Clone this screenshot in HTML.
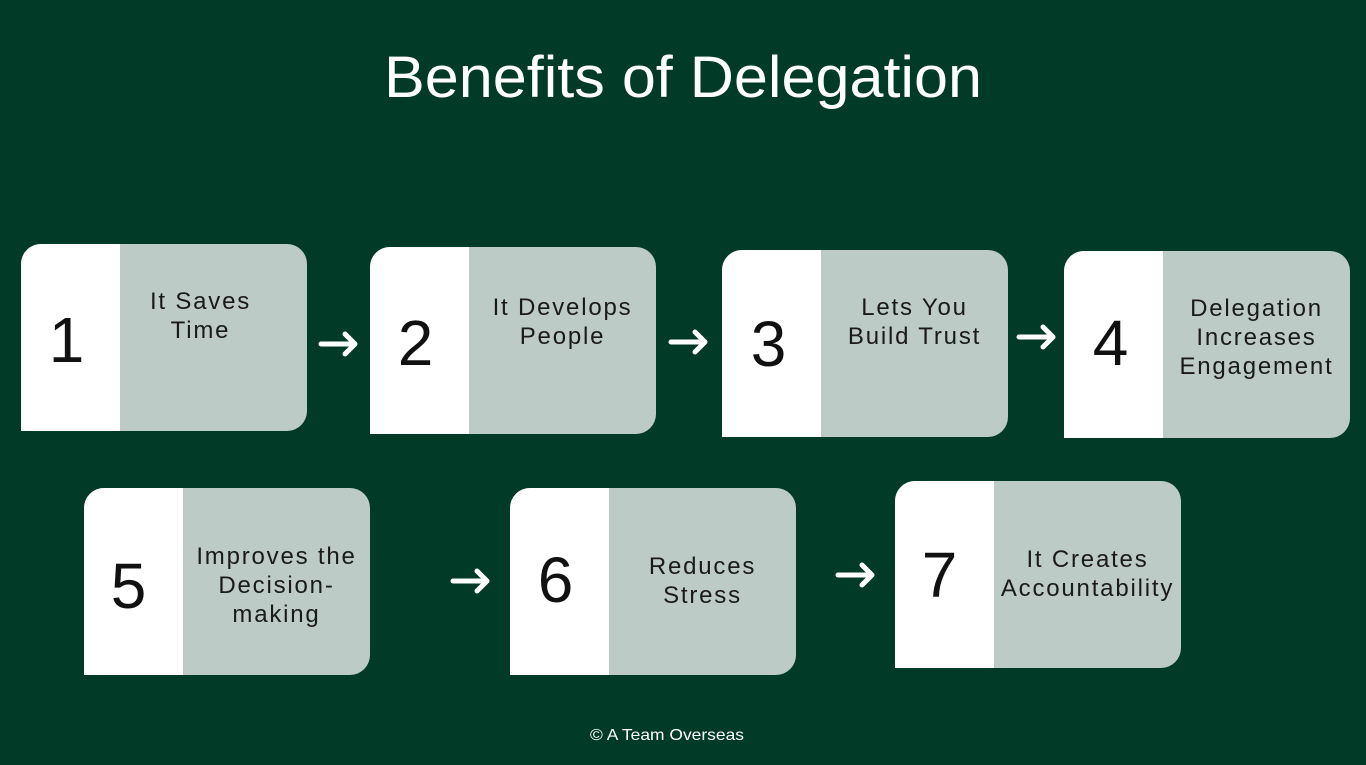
<!DOCTYPE html>
<html><head><meta charset="utf-8">
<style>
html,body{margin:0;padding:0}
body{width:1366px;height:765px;background:#023a28;position:relative;overflow:hidden;font-family:"Liberation Sans",sans-serif}
.card{position:absolute;width:286px;height:187px;border-radius:20px 20px 20px 0;background:#bccbc5;overflow:hidden}
.card .w{position:absolute;left:0;top:0;width:99px;height:100%;background:#fff}
.card .n{position:absolute;left:0;width:99px;text-align:center;font-size:64px;line-height:64px;color:#111}
.card .t{position:absolute;left:99px;right:0;text-align:center;font-size:24px;line-height:29px;color:#1a1a1a;letter-spacing:1.8px;white-space:nowrap}
</style></head><body>
<svg width="1366" height="765" style="position:absolute;left:0;top:0">
<text x="683" y="97" fill="#fff" font-family="Liberation Sans" font-size="58" text-anchor="middle" textLength="598" lengthAdjust="spacingAndGlyphs">Benefits of Delegation</text>
<text x="667" y="740" fill="#fff" font-family="Liberation Sans" font-size="16" text-anchor="middle" textLength="154" lengthAdjust="spacingAndGlyphs">© A Team Overseas</text>
<g stroke="#fff" stroke-width="5" fill="none" stroke-linecap="round" stroke-linejoin="round">
<path d="M321 344H354M345 334L355 344L345 354"/>
<path d="M671 342H704M695 332L705 342L695 352"/>
<path d="M1019 337H1052M1043 327L1053 337L1043 347"/>
<path d="M453 581H486M477 571L487 581L477 591"/>
<path d="M838 575H871M862 565L872 575L862 585"/>
</g>
</svg>

<div class="card" style="left:21px;top:244px"><div class="w"></div><div class="n" style="top:64px;left:-4px">1</div><div class="t" style="top:43px;padding-right:26px">It Saves<br>Time</div></div>
<div class="card" style="left:370px;top:247px"><div class="w"></div><div class="n" style="top:64px;left:-4px">2</div><div class="t" style="top:46px">It Develops<br>People</div></div>
<div class="card" style="left:722px;top:250px"><div class="w"></div><div class="n" style="top:62px;left:-3px">3</div><div class="t" style="top:43px">Lets You<br>Build Trust</div></div>
<div class="card" style="left:1064px;top:251px"><div class="w"></div><div class="n" style="top:60px;left:-3px">4</div><div class="t" style="top:43px">Delegation<br>Increases<br>Engagement</div></div>
<div class="card" style="left:84px;top:488px"><div class="w"></div><div class="n" style="top:66px;left:-5px">5</div><div class="t" style="top:54px">Improves the<br>Decision-<br>making</div></div>
<div class="card" style="left:510px;top:488px"><div class="w"></div><div class="n" style="top:60px;left:-4px">6</div><div class="t" style="top:64px">Reduces<br>Stress</div></div>
<div class="card" style="left:895px;top:481px"><div class="w"></div><div class="n" style="top:62px;left:-5px">7</div><div class="t" style="top:64px">It Creates<br>Accountability</div></div>
</body></html>
